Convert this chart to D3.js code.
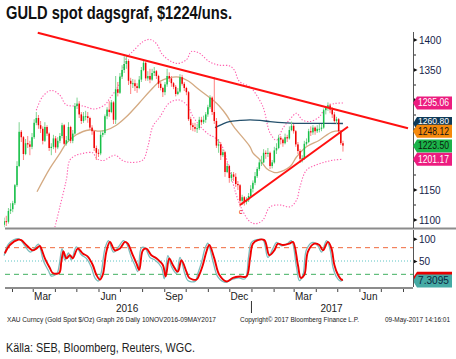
<!DOCTYPE html>
<html><head><meta charset="utf-8">
<script src="https://cdn.jsdelivr.net/npm/d3@7"></script>
<style>
body{margin:0;background:#fff;}
svg{display:block;}
text{font-family:"Liberation Sans Narrow","Arial Narrow",sans-serif;}
</style></head><body>
<svg id="c" width="456" height="359"></svg>
<script>
// ---------- DATA ----------
const startDate = "2016-01-21";
const stepDays = 3;
const firstOpen = 1092;
const closes = [1098,1097,1115,1118,1128,1158,1190,1247,1238,1210,
1228,1226,1222,1238,1262,1270,1258,1252,1232,1255,
1244,1220,1222,1236,1221,1232,1240,1258,1227,1233,
1255,1232,1244,1290,1294,1276,1265,1273,1273,1270,
1254,1248,1220,1212,1211,1242,1245,1273,1284,1280,
1296,1267,1318,1312,1339,1350,1360,1365,1332,1327,
1328,1323,1320,1334,1350,1362,1336,1340,1334,1345,
1348,1340,1327,1320,1313,1326,1340,1336,1328,1322,
1310,1314,1338,1327,1320,1313,1268,1258,1255,1252,
1253,1267,1263,1267,1276,1288,1304,1280,1265,1224,
1226,1208,1213,1180,1190,1170,1176,1172,1160,1158,
1132,1138,1130,1133,1140,1152,1162,1173,1185,1196,
1196,1212,1210,1212,1190,1196,1216,1220,1237,1234,
1228,1238,1236,1250,1257,1248,1226,1215,1202,1203,
1227,1230,1248,1246,1254,1248,1252,1252,1254,1283,
1287,1291,1284,1276,1265,1268,1248,1228,1224];
const highs = [1104,1107,1120,1128,1132,1160,1198,1263,1250,1240,
1235,1240,1232,1245,1268,1280,1275,1265,1256,1263,
1258,1246,1228,1242,1240,1238,1245,1262,1260,1240,
1263,1257,1250,1295,1304,1298,1280,1280,1282,1280,
1272,1258,1250,1224,1218,1248,1250,1276,1288,1298,
1300,1298,1340,1330,1345,1358,1373,1375,1368,1337,
1335,1334,1328,1340,1355,1367,1364,1348,1352,1352,
1355,1350,1342,1330,1322,1330,1352,1346,1340,1330,
1325,1320,1343,1342,1330,1322,1315,1272,1262,1262,
1260,1272,1272,1274,1280,1292,1308,1306,1338,1270,
1235,1230,1218,1215,1195,1192,1180,1180,1178,1165,
1160,1142,1140,1138,1145,1158,1166,1180,1188,1200,
1207,1218,1216,1220,1214,1200,1222,1228,1242,1240,
1236,1244,1242,1256,1264,1260,1250,1230,1218,1208,
1232,1236,1252,1256,1258,1256,1258,1260,1260,1286,
1290,1296,1294,1288,1280,1272,1270,1250,1232];
const lows = [1088,1090,1094,1110,1113,1125,1155,1188,1230,1200,
1208,1220,1208,1218,1235,1258,1252,1245,1226,1230,
1240,1215,1208,1218,1212,1218,1228,1236,1225,1224,
1230,1228,1228,1242,1285,1270,1260,1262,1266,1262,
1250,1242,1215,1200,1205,1208,1238,1242,1268,1272,
1278,1260,1260,1306,1310,1335,1345,1352,1325,1310,
1320,1315,1312,1318,1330,1348,1332,1332,1328,1332,
1340,1335,1320,1316,1305,1308,1322,1330,1322,1318,
1306,1308,1312,1324,1315,1308,1265,1250,1248,1247,
1245,1250,1258,1260,1262,1272,1285,1275,1260,1220,
1212,1200,1205,1172,1178,1162,1164,1165,1155,1150,
1122,1125,1124,1126,1130,1138,1146,1158,1170,1182,
1190,1195,1202,1205,1185,1186,1194,1210,1218,1226,
1222,1226,1230,1234,1248,1244,1222,1210,1195,1196,
1200,1224,1228,1240,1242,1242,1245,1246,1248,1252,
1276,1282,1278,1270,1262,1260,1244,1225,1214];

const ma50 = [["2016-03-07",1147],["2016-03-25",1186],["2016-04-08",1211],["2016-04-17",1228],["2016-05-01",1242],["2016-05-19",1250],["2016-06-02",1248],["2016-06-12",1250],["2016-06-26",1258],["2016-07-10",1272],["2016-07-28",1295],["2016-08-12",1315],["2016-08-26",1331],["2016-09-08",1337],["2016-09-22",1338],["2016-10-04",1332],["2016-10-20",1317],["2016-11-08",1300],["2016-11-17",1290],["2016-11-27",1275],["2016-12-07",1256],["2016-12-30",1222],["2017-01-03",1212],["2017-01-13",1200],["2017-01-22",1186],["2017-01-31",1180],["2017-02-06",1179],["2017-02-24",1189],["2017-03-05",1205],["2017-03-19",1222],["2017-04-06",1233],["2017-04-24",1247],["2017-05-09",1248.12]];
const ma200 = [["2016-11-11",1254],["2016-11-20",1259],["2016-12-01",1264],["2016-12-16",1266],["2016-12-30",1267],["2017-01-13",1266],["2017-01-27",1264],["2017-02-19",1262],["2017-03-13",1261],["2017-04-06",1261],["2017-05-09",1260.8]];
const bbUpper = [["2016-03-06",1283],["2016-03-15",1306],["2016-03-27",1316],["2016-04-08",1308],["2016-04-17",1292],["2016-05-10",1290],["2016-05-26",1285],["2016-06-10",1292],["2016-06-17",1303],["2016-06-28",1322],["2016-07-10",1370],["2016-07-19",1381],["2016-08-02",1397],["2016-08-12",1401],["2016-08-21",1394],["2016-08-30",1375],["2016-09-18",1361],["2016-10-02",1367],["2016-10-09",1381],["2016-10-20",1378],["2016-11-03",1364],["2016-11-17",1358],["2016-12-01",1357],["2016-12-08",1350],["2016-12-15",1331],["2016-12-30",1322],["2017-01-03",1317],["2017-01-17",1289],["2017-01-27",1245],["2017-02-05",1233],["2017-02-14",1253],["2017-02-24",1268],["2017-03-05",1278],["2017-03-13",1267],["2017-03-23",1264],["2017-04-06",1272],["2017-04-15",1289],["2017-04-27",1294],["2017-05-09",1295.06]];
const bbLower = [["2016-04-01",1088],["2016-04-08",1122],["2016-04-17",1167],["2016-04-22",1200],["2016-05-01",1208],["2016-05-10",1211],["2016-05-24",1212],["2016-05-29",1203],["2016-06-07",1199],["2016-06-24",1208],["2016-07-05",1199],["2016-07-15",1196],["2016-08-02",1200],["2016-08-09",1222],["2016-08-16",1256],["2016-08-26",1272],["2016-09-08",1295],["2016-09-22",1300],["2016-10-04",1290],["2016-10-10",1275],["2016-10-20",1258],["2016-11-03",1242],["2016-11-10",1238],["2016-11-20",1225],["2016-12-01",1185],["2016-12-10",1145],["2016-12-19",1117],["2016-12-30",1097],["2017-01-08",1094],["2017-01-17",1100],["2017-01-27",1122],["2017-02-10",1125],["2017-02-24",1122],["2017-03-05",1133],["2017-03-10",1156],["2017-03-19",1183],["2017-04-02",1192],["2017-04-15",1197],["2017-04-27",1200],["2017-05-09",1201.17]];

const stochD = [["2016-01-22",67],["2016-01-29",86],["2016-02-10",98],["2016-02-14",97],["2016-02-21",86],["2016-03-01",74],["2016-03-06",78],["2016-03-11",84],["2016-03-13",78],["2016-03-18",56],["2016-03-25",34],["2016-03-29",23],["2016-04-07",23],["2016-04-10",48],["2016-04-13",72],["2016-04-17",56],["2016-04-22",63],["2016-04-26",56],["2016-05-03",78],["2016-05-10",67],["2016-05-17",60],["2016-05-24",41],["2016-05-29",19],["2016-06-03",8],["2016-06-07",19],["2016-06-12",71],["2016-06-17",93],["2016-06-24",74],["2016-07-01",78],["2016-07-08",93],["2016-07-12",89],["2016-07-19",63],["2016-07-24",45],["2016-07-28",30],["2016-08-02",74],["2016-08-07",78],["2016-08-14",63],["2016-08-21",56],["2016-08-30",41],["2016-09-03",15],["2016-09-08",56],["2016-09-13",41],["2016-09-20",26],["2016-09-25",52],["2016-10-02",26],["2016-10-06",12],["2016-10-16",8],["2016-10-20",19],["2016-10-25",41],["2016-10-30",71],["2016-11-03",86],["2016-11-10",56],["2016-11-17",19],["2016-11-27",4],["2016-12-06",12],["2016-12-16",15],["2016-12-25",15],["2016-12-30",56],["2017-01-03",89],["2017-01-10",97],["2017-01-19",97],["2017-01-26",63],["2017-02-02",74],["2017-02-07",89],["2017-02-14",86],["2017-02-23",89],["2017-02-28",93],["2017-03-07",41],["2017-03-11",12],["2017-03-16",19],["2017-03-21",71],["2017-03-30",89],["2017-04-06",86],["2017-04-11",74],["2017-04-18",93],["2017-04-23",78],["2017-04-27",41],["2017-05-02",19],["2017-05-07",8],["2017-05-09",7.8]];
const stochK = [["2016-01-21",62],["2016-01-27",88],["2016-02-07",100],["2016-02-12",99],["2016-02-19",84],["2016-02-27",70],["2016-03-04",80],["2016-03-09",88],["2016-03-12",76],["2016-03-16",50],["2016-03-23",28],["2016-03-27",16],["2016-04-04",22],["2016-04-07",40],["2016-04-11",78],["2016-04-15",52],["2016-04-20",68],["2016-04-24",52],["2016-05-01",82],["2016-05-08",64],["2016-05-15",56],["2016-05-22",36],["2016-05-27",12],["2016-06-01",5],["2016-06-05",25],["2016-06-10",78],["2016-06-15",96],["2016-06-22",70],["2016-06-29",82],["2016-07-06",96],["2016-07-10",90],["2016-07-17",58],["2016-07-22",40],["2016-07-26",26],["2016-07-31",80],["2016-08-05",80],["2016-08-12",58],["2016-08-19",52],["2016-08-28",36],["2016-09-01",10],["2016-09-06",62],["2016-09-11",38],["2016-09-18",22],["2016-09-23",58],["2016-09-30",20],["2016-10-04",6],["2016-10-14",4],["2016-10-18",22],["2016-10-23",46],["2016-10-28",78],["2016-11-01",90],["2016-11-08",50],["2016-11-15",14],["2016-11-25",2],["2016-12-04",8],["2016-12-14",12],["2016-12-23",10],["2016-12-28",60],["2017-01-01",92],["2017-01-08",98],["2017-01-17",98],["2017-01-24",58],["2017-01-31",78],["2017-02-05",92],["2017-02-12",84],["2017-02-21",90],["2017-02-26",96],["2017-03-05",36],["2017-03-09",6],["2017-03-14",18],["2017-03-19",76],["2017-03-28",92],["2017-04-04",84],["2017-04-09",70],["2017-04-16",96],["2017-04-21",76],["2017-04-25",36],["2017-04-30",14],["2017-05-05",5],["2017-05-09",7.3095]];

const trendDown = [["2016-03-08",1412],["2017-08-08",1253]];
const trendUp = [["2016-12-16",1125],["2017-05-16",1255.5]];

const priceTickLabels = [1100,1150,1350,1400];     // labels visible in the reference
const priceTickMarks = [1100,1150,1200,1250,1300,1350,1400];
const priceMinor = [1125,1175,1225,1275,1325,1375];
const stochTicks = [50,100];
const stochLevels = [80,50,20];
const monthLabels = [["2016-03-15","Mar"],["2016-06-15","Jun"],["2016-09-15","Sep"],["2016-12-15","Dec"],["2017-03-15","Mar"],["2017-06-15","Jun"]];
const yearLabels = [["2016-07-11","2016"],["2017-04-23","2017"]];
const yearBreak = "2017-01-01";
const lastValues = [1295.06, 1260.80, 1248.12, 1223.50, 1201.17];
const lastStoch = [7.8, 7.3095];

const title = "GULD spot dagsgraf, $1224/uns.";
const footerLeft = "XAU Curncy (Gold Spot $/Oz) Graph 26  Daily 10NOV2016-09MAY2017";
const footerMid = "Copyright\u00A9 2017 Bloomberg Finance L.P.";
const footerRight = "09-May-2017 14:16:01";
const source = "Källa: SEB, Bloomberg, Reuters, WGC.";

// ---------- DRAW ----------
const svg = d3.select("#c");
const parse = d3.timeParse("%Y-%m-%d");
const x = d3.scaleTime().domain([parse("2016-02-01"), parse("2017-08-01")]).range([12, 403]);
const y = d3.scaleLinear().domain([1100, 1400]).range([220, 40]);
const ys = d3.scaleLinear().domain([0, 100]).range([283.2, 238.8]);
const AX = 413;

svg.append("rect").attr("width",456).attr("height",359).attr("fill","#fff");

// title
svg.append("text").attr("x",6).attr("y",18.5).attr("font-size",17.5).attr("font-weight","bold")
  .attr("fill","#111").attr("textLength",226).attr("lengthAdjust","spacingAndGlyphs").text(title);

// clip
svg.append("clipPath").attr("id","mainclip").append("rect").attr("x",4).attr("y",31).attr("width",AX-4).attr("height",197);
const main = svg.append("g").attr("clip-path","url(#mainclip)");

const lineP = d3.line().x(d=>x(parse(d[0]))).y(d=>y(d[1])).curve(d3.curveCatmullRom.alpha(0.5));

// bollinger
main.append("path").datum(bbUpper).attr("d",lineP).attr("fill","none").attr("stroke","#ff5fae").attr("stroke-width",1.1).attr("stroke-dasharray","1.3,1.7");
main.append("path").datum(bbLower).attr("d",lineP).attr("fill","none").attr("stroke","#ff5fae").attr("stroke-width",1.1).attr("stroke-dasharray","1.3,1.7");
// MAs
main.append("path").datum(ma50).attr("d",lineP).attr("fill","none").attr("stroke","#d4aa82").attr("stroke-width",1.3);
main.append("path").datum(ma200).attr("d",lineP).attr("fill","none").attr("stroke","#24506c").attr("stroke-width",1.3);

// candles
const t0 = parse(startDate);
const candles = closes.map((c,i)=>({
  date: d3.timeDay.offset(t0, i*stepDays),
  o: i===0 ? firstOpen : closes[i-1], c, h: highs[i], l: lows[i]
}));
const cg = main.append("g");
cg.selectAll("line").data(candles).join("line")
  .attr("x1",d=>x(d.date)).attr("x2",d=>x(d.date))
  .attr("y1",d=>y(d.h)).attr("y2",d=>y(d.l))
  .attr("stroke",d=>d.c>=d.o?"#7fd492":"#ff8080").attr("stroke-width",1);
cg.selectAll("rect").data(candles).join("rect")
  .attr("x",d=>x(d.date)-0.75).attr("width",1.5)
  .attr("y",d=>y(Math.max(d.o,d.c)))
  .attr("height",d=>Math.max(1,Math.abs(y(d.o)-y(d.c))))
  .attr("fill",d=>d.c>=d.o?"#16c048":"#f00000");

// trend lines
const lineT = d3.line().x(d=>x(parse(d[0]))).y(d=>y(d[1]));
main.append("path").datum(trendDown).attr("d",lineT).attr("stroke","#ff1010").attr("stroke-width",2).attr("fill","none");
main.append("path").datum(trendUp).attr("d",lineT).attr("stroke","#ff1010").attr("stroke-width",2).attr("fill","none");
main.append("text").attr("x",x(parse("2016-12-17"))).attr("y",y(1110)).attr("font-size",7).attr("fill","#e00").attr("text-anchor","middle").text("c");

// separators
svg.append("line").attr("x1",5).attr("x2",456).attr("y1",228.5).attr("y2",228.5).attr("stroke","#8c8c8c").attr("stroke-width",2);
svg.append("line").attr("x1",5).attr("x2",AX).attr("y1",288).attr("y2",288).attr("stroke","#8c8c8c").attr("stroke-width",2);

// right price axis
const ax = d3.axisRight(y).tickValues(priceTickLabels).tickSize(0).tickPadding(6).tickFormat(d3.format("d"));
const ag = svg.append("g").attr("transform",`translate(${AX},0)`).call(ax);
ag.select(".domain").remove();
ag.selectAll("text").attr("font-size",10).attr("fill","#14224a").attr("font-family",'"Liberation Sans Narrow",sans-serif');
svg.append("g").selectAll("path").data(priceTickMarks).join("path")
  .attr("transform",d=>`translate(${AX},${y(d)})`).attr("d","M0,-2.2L4.5,0L0,2.2Z").attr("fill","#111");
svg.append("g").selectAll("line").data(priceMinor).join("line")
  .attr("x1",AX).attr("x2",AX+3).attr("y1",d=>y(d)).attr("y2",d=>y(d)).attr("stroke","#222");
svg.append("line").attr("x1",AX+0.5).attr("x2",AX+0.5).attr("y1",32).attr("y2",228).attr("stroke","#555");

// price labels
const boxStyles = [
  {bg:"#ec1c7f", fg:"#fff", dy:3.5, fs:10},
  {bg:"#0f3a58", fg:"#fff", dy:0.8, fs:9},
  {bg:"#f5890c", fg:"#111", dy:3.5, fs:10},
  {bg:"#1cb34a", fg:"#0a1a0a", dy:3.5, fs:10},
  {bg:"#ec1c7f", fg:"#fff", dy:3.5, fs:10}
];
function tag(g, yc, st, txt){
  const x0 = AX, x1 = 452, h = 6.5;
  g.append("path").attr("d",`M${x0},${yc}L${x0+4},${yc-h}L${x1},${yc-h}L${x1},${yc+h}L${x0+4},${yc+h}Z`).attr("fill",st.bg);
  g.append("text").attr("x",x0+5).attr("y",yc+st.dy).attr("font-size",st.fs).attr("fill",st.fg)
    .attr("textLength",31).attr("lengthAdjust","spacingAndGlyphs").text(txt);
}
const tg = svg.append("g");
lastValues.forEach((v,i)=>tag(tg, y(v), boxStyles[i], d3.format(".2f")(v)));

// stochastic panel
const sg = svg.append("g");
const lvlStyle = {80:{c:"#f0683c",d:"5,4"},50:{c:"#5cc4c4",d:"1,2"},20:{c:"#40b060",d:"5,4"}};
sg.selectAll("line.lvl").data(stochLevels).join("line").attr("class","lvl")
  .attr("x1",5).attr("x2",AX).attr("y1",d=>ys(d)).attr("y2",d=>ys(d))
  .attr("stroke",d=>lvlStyle[d].c).attr("stroke-dasharray",d=>lvlStyle[d].d).attr("stroke-width",1);
const lineS = d3.line().x(d=>x(parse(d[0]))).y(d=>ys(d[1])).curve(d3.curveCatmullRom.alpha(0.5));
sg.append("path").datum(stochK).attr("d",lineS).attr("fill","none").attr("stroke","#7cbcbc").attr("stroke-width",1.3);
sg.append("path").datum(stochD).attr("d",lineS).attr("fill","none").attr("stroke","#f00000").attr("stroke-width",1.9);

const sax = d3.axisRight(ys).tickValues(stochTicks).tickSize(0).tickPadding(6);
const sag = svg.append("g").attr("transform",`translate(${AX},0)`).call(sax);
sag.select(".domain").remove();
sag.selectAll("text").attr("font-size",10).attr("fill","#14224a").attr("font-family",'"Liberation Sans Narrow",sans-serif');
sag.selectAll(".tick").append("path").attr("d","M0,-2.2L4.5,0L0,2.2Z").attr("fill","#111");
svg.append("line").attr("x1",AX+0.5).attr("x2",AX+0.5).attr("y1",230).attr("y2",287).attr("stroke","#555");
// stoch tags
const sy0 = ys(lastStoch[0]) - 2, sy1 = ys(lastStoch[1]) + 1;
tg.append("path").attr("d",`M${AX},${sy0}L${AX+4},${sy0-6}L452,${sy0-6}L452,${sy0+6}L${AX+4},${sy0+6}Z`).attr("fill","#e80000");
tag(tg, sy1, {bg:"#45aaa4", fg:"#0a2540", dy:3.5, fs:10}, d3.format(".4f")(lastStoch[1]));

// x axis
const xa = d3.axisBottom(x).ticks(d3.timeMonth.every(1)).tickSize(3).tickFormat("");
const xg = svg.append("g").attr("transform","translate(0,289)").call(xa);
xg.select(".domain").remove();
xg.selectAll(".tick line").attr("stroke","#444");
svg.append("g").selectAll("text").data(monthLabels).join("text")
  .attr("x",d=>x(parse(d[0]))).attr("y",299.5).attr("text-anchor","middle")
  .attr("font-size",10).attr("fill","#1a1a1a").text(d=>d[1]);
svg.append("g").selectAll("text").data(yearLabels).join("text")
  .attr("x",d=>x(parse(d[0]))).attr("y",312).attr("text-anchor","middle")
  .attr("font-size",10).attr("fill","#1a1a1a").text(d=>d[1]);
svg.append("line").attr("x1",x(parse(yearBreak))).attr("x2",x(parse(yearBreak)))
  .attr("y1",301).attr("y2",313).attr("stroke","#333");

// footer
const ff = "Liberation Sans, Arial, sans-serif";
svg.append("text").attr("x",7).attr("y",322).attr("font-size",6.8).attr("font-family",ff).attr("fill","#222")
  .attr("textLength",209).attr("lengthAdjust","spacingAndGlyphs").text(footerLeft);
svg.append("text").attr("x",240).attr("y",322).attr("font-size",6.8).attr("font-family",ff).attr("fill","#222")
  .attr("textLength",119).attr("lengthAdjust","spacingAndGlyphs").text(footerMid);
svg.append("text").attr("x",385).attr("y",322).attr("font-size",6.8).attr("font-family",ff).attr("fill","#222")
  .attr("textLength",65).attr("lengthAdjust","spacingAndGlyphs").text(footerRight);
svg.append("text").attr("x",6).attr("y",352).attr("font-size",13).attr("fill","#222")
  .attr("textLength",189).attr("lengthAdjust","spacingAndGlyphs").text(source);
</script>
</body></html>
